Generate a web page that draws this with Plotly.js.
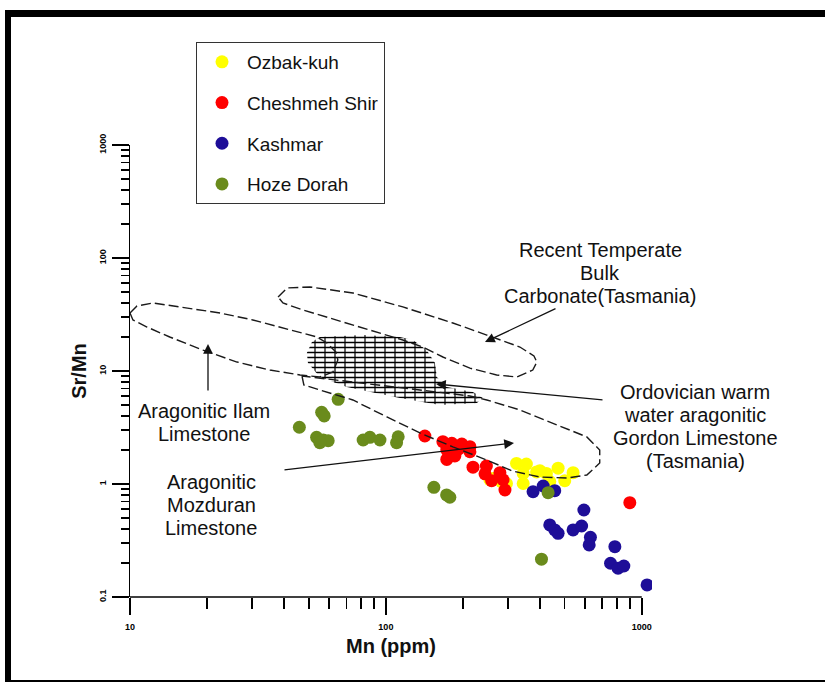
<!DOCTYPE html>
<html>
<head>
<meta charset="utf-8">
<script src="https://cdn.plot.ly/plotly-3.0.1.min.js"></script>
<style>
  html, body { margin:0; padding:0; background:#fff; overflow:hidden; }
  #chart { position:absolute; left:0; top:0; width:825px; height:682px; }
  #frame { position:absolute; left:5px; top:10px; width:820px; height:672px; box-sizing:border-box;
           border-top:7px solid #000; border-left:6px solid #000; border-bottom:2px solid #000; pointer-events:none; }
</style>
</head>
<body>
<div id="chart"></div>
<div id="frame"></div>
<script>
// ---- Data ----
const seriesNames = ['Ozbak-kuh', 'Cheshmeh Shir', 'Kashmar', 'Hoze Dorah'];

const ozbakMn  = [324, 354, 344, 388, 400, 424, 471, 539, 500, 437, 344, 262, 283, 296, 255];
const ozbakSrMn = [1.52, 1.50, 1.24, 1.28, 1.31, 1.24, 1.38, 1.26, 1.07, 1.05, 1.01, 1.12, 1.05, 1.01, 1.09];

const cheshMn  = [142, 167, 181, 198, 213, 173, 192, 213, 173, 186, 219, 247, 244, 279, 259, 287, 292, 898];
const cheshSrMn = [2.66, 2.37, 2.29, 2.26, 2.14, 2.00, 2.03, 1.93, 1.65, 1.77, 1.41, 1.44, 1.23, 1.26, 1.07, 1.09, 0.885, 0.683];

const kashMn  = [376, 412, 457, 594, 437, 457, 471, 539, 582, 630, 623, 785, 755, 808, 851, 1049];
const kashSrMn = [0.855, 0.96, 0.873, 0.589, 0.434, 0.392, 0.366, 0.392, 0.425, 0.338, 0.289, 0.279, 0.199, 0.180, 0.188, 0.128];

const hozeMn  = [65.1, 56.1, 57.4, 45.9, 53.6, 56.9, 59.5, 55.2, 81.5, 86.6, 94.8, 111.7, 110.1, 154, 172.7, 177.8, 430.5, 405.6];
const hozeSrMn = [5.62, 4.31, 4.00, 3.18, 2.59, 2.45, 2.42, 2.32, 2.45, 2.59, 2.45, 2.62, 2.32, 0.935, 0.80, 0.763, 0.838, 0.216];

// Reference field outlines (Mn, Sr/Mn)
const ilamMn   = [10.0, 10.65, 12.3, 16.7, 22.5, 30.2, 38.6, 46.2, 53.8, 58.8, 63.8, 64.9, 62.1, 55.2, 46.2, 35.2, 26.2, 19.3, 14.3, 11.65, 10.27, 10.0];
const ilamSrMn = [32.6, 37.6, 40.0, 35.9, 32.6, 28.3, 24.5, 22.1, 20.0, 17.7, 14.7, 12.5, 9.8, 8.85, 9.22, 10.2, 12.0, 15.3, 20.0, 24.5, 28.3, 32.6];

const recentMn   = [37.9, 41.1, 50.5, 74.3, 116.5, 182.7, 248, 334, 379, 389, 375, 325, 271, 213, 167, 139.5, 116.5, 86.6, 64.4, 47.4, 39.6, 37.9];
const recentSrMn = [45.2, 54.3, 55.4, 49.0, 36.9, 26.6, 20.8, 16.3, 13.6, 12.0, 10.2, 8.85, 9.22, 10.6, 13.3, 16.3, 18.8, 23.1, 28.3, 34.7, 40.0, 45.2];

const gordonMn   = [47.0, 47.8, 55.2, 74.3, 100.9, 135.8, 182.7, 248, 313, 400, 509, 610, 685, 685, 610, 449, 334, 248, 212.9, 135.8, 79.1, 55.2, 47.0];
const gordonSrMn = [9.03, 7.52, 6.79, 5.54, 3.92, 2.83, 2.13, 1.63, 1.30, 1.153, 1.129, 1.2, 1.534, 2.0, 2.61, 3.47, 4.52, 5.54, 6.01, 6.79, 7.83, 8.67, 9.03];

const hatchMn   = [49.1, 51.4, 55.2, 81.3, 113.4, 127.5, 144.6, 155.4, 158.2, 173.1, 218.7, 239.3, 226.8, 162.5, 113.4, 70.4, 55.2, 49.6, 49.1];
const hatchSrMn = [14.4, 18.1, 20.0, 20.8, 20.0, 18.8, 15.3, 11.8, 8.85, 7.22, 6.52, 5.77, 5.21, 5.0, 5.77, 7.22, 8.85, 11.8, 14.4];

const xTickVals = [10, 100, 1000];
const xTickText = ['10', '100', '1000'];
const yTickVals = [0.1, 1, 10, 100, 1000];
const yTickText = ['0.1', '1', '10', '100', '1000'];

// ---- Styling ----
const colors = ['#ffff00', '#ff0000', '#1e0e98', '#6a8b1c'];
const xs = [ozbakMn, cheshMn, kashMn, hozeMn];
const ys = [ozbakSrMn, cheshSrMn, kashSrMn, hozeSrMn];

const minorX = [];
[10, 100].forEach(d => { for (let k = 2; k <= 9; k++) minorX.push(k * d); });
const minorY = [];
[0.1, 1, 10, 100].forEach(d => { for (let k = 2; k <= 9; k++) minorY.push(k * d); });

const dashLine = {color: '#1a1a1a', width: 1.4, dash: '10px,4px'};
const traces = [];

// brick-like hatch: horizontal courses + sparser vertical joints
traces.push({
  x: hatchMn, y: hatchSrMn, type: 'scatter', mode: 'lines', fill: 'toself',
  line: {width: 0, color: 'rgba(0,0,0,0)'}, showlegend: false, hoverinfo: 'skip',
  fillcolor: 'rgba(0,0,0,0)',
  fillpattern: {shape: '-', size: 5, solidity: 0.3, fgcolor: '#000', bgcolor: '#fff'}
});
traces.push({
  x: hatchMn, y: hatchSrMn, type: 'scatter', mode: 'lines', fill: 'toself',
  line: {width: 0, color: 'rgba(0,0,0,0)'}, showlegend: false, hoverinfo: 'skip',
  fillcolor: 'rgba(0,0,0,0)',
  fillpattern: {shape: '|', size: 10, solidity: 0.12, fgcolor: '#000', bgcolor: 'rgba(0,0,0,0)'}
});

seriesNames.forEach((n, i) => {
  traces.push({
    x: xs[i], y: ys[i], type: 'scatter', mode: 'markers', name: n,
    legendgroup: n,
    marker: {size: 13, color: colors[i], line: {width: 0}}
  });
});

[[ilamMn, ilamSrMn], [recentMn, recentSrMn], [gordonMn, gordonSrMn]].forEach(p => {
  traces.push({x: p[0], y: p[1], type: 'scatter', mode: 'lines', line: dashLine,
               showlegend: false, hoverinfo: 'skip'});
});

// plot area: x 130..652 (log 1 .. 3.04), y 145..597 (log -1 .. 3)
const X0 = 130, X1 = 652, Y0 = 145, Y1 = 597;
const PX = v => (v - X0) / (X1 - X0);
const PY = v => (Y1 - v) / (Y1 - Y0);

const textFont = {family: 'Arial, Liberation Sans, sans-serif', size: 20, color: '#111'};
const textBlocks = [
  {cx: 600, lines: ['Recent Temperate', 'Bulk', 'Carbonate(Tasmania)'], ys: [250, 273, 296]},
  {cx: 695, lines: ['Ordovician warm', 'water aragonitic', 'Gordon Limestone', '(Tasmania)'], ys: [392, 415, 438, 461]},
  {cx: 204, lines: ['Aragonitic Ilam', 'Limestone'], ys: [411, 434]},
  {cx: 211, lines: ['Aragonitic', 'Mozduran', 'Limestone'], ys: [482, 505, 528]}
];
const annotations = [];
textBlocks.forEach(b => b.lines.forEach((t, k) => {
  annotations.push({xref: 'paper', yref: 'paper', x: PX(b.cx), y: PY(b.ys[k]), text: t,
    showarrow: false, xanchor: 'center', yanchor: 'middle', font: textFont});
}));
const arrows = [
  {tip: [485, 342], tail: [557, 308]},
  {tip: [436, 384], tail: [604, 400]},
  {tip: [208, 344], tail: [208, 392]},
  {tip: [514, 443], tail: [283, 470]}
];
arrows.forEach(a => annotations.push({
  xref: 'paper', yref: 'paper', x: PX(a.tip[0]), y: PY(a.tip[1]), text: '',
  showarrow: true, ax: a.tail[0] - a.tip[0], ay: a.tail[1] - a.tip[1],
  arrowhead: 2, arrowsize: 1.5, arrowwidth: 1.3, arrowcolor: '#111', standoff: 0
}));

const tickFont = {family: 'Arial, Liberation Sans, sans-serif', size: 9, color: '#000', weight: 'bold'};
const layout = {
  width: 825, height: 682,
  margin: {l: X0, r: 825 - X1, t: Y0, b: 682 - Y1},
  paper_bgcolor: '#fff', plot_bgcolor: 'rgba(0,0,0,0)',
  showlegend: true,
  legend: {x: PX(196), y: PY(42), xanchor: 'left', yanchor: 'top',
           bordercolor: '#333', borderwidth: 1, bgcolor: '#fff',
           font: {family: 'Arial, Liberation Sans, sans-serif', size: 19, color: '#111'},
           tracegroupgap: 13, itemwidth: 40, traceorder: 'grouped'},
  xaxis: {type: 'log', range: [1, 3.04], showgrid: false, zeroline: false,
          showline: false,
          ticks: 'outside', ticklen: 17, tickwidth: 1.5, tickcolor: '#000',
          tickmode: 'array', tickvals: xTickVals, ticktext: xTickText, tickfont: tickFont,
          ticklabelstandoff: 4,
          minor: {tickmode: 'array', tickvals: minorX, ticks: 'outside', ticklen: 11, tickwidth: 1.5, tickcolor: '#000', showgrid: false},
          title: {text: 'Mn (ppm)', font: {family: 'Arial, Liberation Sans, sans-serif', size: 20, color: '#111', weight: 'bold'}, standoff: 8}},
  yaxis: {type: 'log', range: [-1, 3], showgrid: false, zeroline: false,
          showline: true, linecolor: '#000', linewidth: 1.5,
          ticks: 'outside', ticklen: 17, tickwidth: 1.5, tickcolor: '#000',
          tickmode: 'array', tickvals: yTickVals, ticktext: yTickText, tickfont: tickFont,
          tickangle: -90, ticklabelstandoff: 2,
          minor: {tickmode: 'array', tickvals: minorY, ticks: 'outside', ticklen: 8, tickwidth: 1.5, tickcolor: '#000', showgrid: false},
          title: {text: 'Sr/Mn', font: {family: 'Arial, Liberation Sans, sans-serif', size: 20, color: '#111', weight: 'bold'}, standoff: 6}},
  shapes: [
    // x-axis baseline drawn from 10 to 1000 only
    {type: 'line', xref: 'x', yref: 'paper', x0: xTickVals[0], x1: xTickVals[xTickVals.length - 1], y0: 0, y1: 0,
     line: {color: '#000', width: 1.5}}
  ],
  annotations: annotations
};

Plotly.newPlot('chart', traces, layout, {staticPlot: true});
</script>
</body>
</html>
